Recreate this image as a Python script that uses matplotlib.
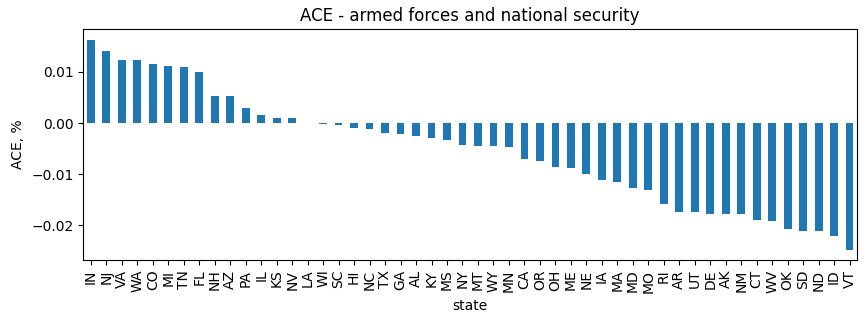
import matplotlib
matplotlib.use("Agg")
import matplotlib.pyplot as plt
import pandas as pd

states = ["IN", "NJ", "VA", "WA", "CO", "MI", "TN", "FL", "NH", "AZ",
          "PA", "IL", "KS", "NV", "LA", "WI", "SC", "HI", "NC", "TX",
          "GA", "AL", "KY", "MS", "NY", "MT", "WY", "MN", "CA", "OR",
          "OH", "ME", "NE", "IA", "MA", "MD", "MO", "RI", "AR", "UT",
          "DE", "AK", "NM", "CT", "WV", "OK", "SD", "ND", "ID", "VT"]

ace = [0.0163, 0.0140, 0.0124, 0.0124, 0.0116, 0.0112, 0.0110, 0.0099, 0.0053, 0.0053,
       0.0030, 0.0016, 0.0009, 0.0009, 0.00003, -0.0002, -0.0004, -0.0009, -0.0011, -0.0019,
       -0.0021, -0.0025, -0.0029, -0.0033, -0.0043, -0.0044, -0.0045, -0.0046, -0.0070, -0.0074,
       -0.0085, -0.0087, -0.0099, -0.0112, -0.0116, -0.0126, -0.0130, -0.0159, -0.0173, -0.0173,
       -0.0177, -0.0177, -0.0177, -0.0189, -0.0191, -0.0206, -0.0210, -0.0210, -0.0220, -0.0247]

series = pd.Series(ace, index=pd.Index(states, name="state"))

fig, ax = plt.subplots(figsize=(8.66, 3.23), dpi=100)
fig.subplots_adjust(left=0.096, right=0.99, top=0.91, bottom=0.195)

series.plot(kind="bar", ax=ax, color="#1f77b4")
ax.set_title("ACE - armed forces and national security")
ax.set_ylabel("ACE, %")
ax.set_xlabel("state")

fig.savefig("out.png", dpi=100)
